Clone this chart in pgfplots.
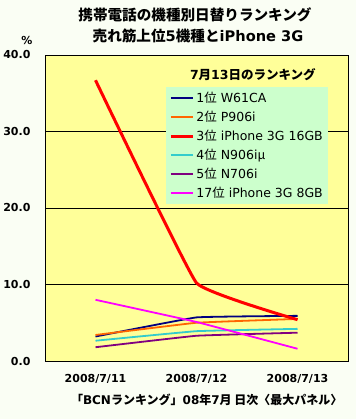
\documentclass[border=0pt]{standalone}
\usepackage{pgfplots}
\pgfplotsset{compat=1.18}
\usepackage{fontspec}
\setmainfont{DejaVu Sans}
\newfontfamily\jp{Noto Sans CJK JP}
\definecolor{bgc}{HTML}{FAFEF4}
\definecolor{plotbg}{HTML}{FFFF99}
\definecolor{legbg}{HTML}{CCFFCC}
\definecolor{c1}{HTML}{000080}
\definecolor{c2}{HTML}{FF6600}
\definecolor{c3}{HTML}{FF0000}
\definecolor{c4}{HTML}{33CCCC}
\definecolor{c5}{HTML}{800080}
\definecolor{c6}{HTML}{FF00FF}
\begin{document}
\begin{tikzpicture}[x=1pt,y=1pt]
\useasboundingbox (0,0) rectangle (356,419);
\fill[bgc] (0,0) rectangle (356,419);
\begin{axis}[
  at={(45pt,58pt)}, anchor=south west,
  scale only axis, width=303pt, height=306pt,
  xmin=-0.5, xmax=2.5, ymin=0, ymax=40,
  axis background/.style={fill=plotbg},
  axis line style={black, line width=0.8pt},
  xtick={0,1,2}, xticklabels={2008/7/11,2008/7/12,2008/7/13},
  extra x ticks={0.5,1.5}, extra x tick labels={},
  extra x tick style={major tick length=4pt, tick style={black, line width=0.8pt}, tick align=inside},
  x tick style={draw=none},
  ytick={0,10,20,30,40},
  yticklabel={\pgfmathprintnumber[fixed,fixed zerofill,precision=1]{\tick}},
  y tick style={draw=none},
  ymajorgrids, grid style={black, line width=0.8pt},
  /pgf/number format/assume math mode=true,
  tick label style={font=\bfseries\fontsize{11}{12}\selectfont},
  xticklabel style={yshift=-10pt},
  yticklabel style={xshift=-11pt},
  legend style={at={(rel axis cs:0.40,0.895)}, anchor=north west, fill=legbg, draw=none,
    font=\fontsize{12.5}{14}\selectfont, row sep=3pt, inner xsep=3pt, inner ysep=3pt, cells={anchor=west}},
  legend image code/.code={\draw[#1] (0pt,0pt) -- (22pt,0pt);},
  legend cell align=left,
  clip=false,
]
\addplot[c1, line width=1.8pt, smooth, tension=0.15] coordinates {(0,3.2) (1,5.7) (2,5.9)};
\addlegendentry{1{\jp 位} W61CA}
\addplot[c2, line width=1.8pt, smooth, tension=0.15] coordinates {(0,3.4) (1,5.0) (2,5.5)};
\addlegendentry{2{\jp 位} P906i}
\addplot[c4, line width=1.8pt, smooth, tension=0.15, forget plot] coordinates {(0,2.65) (1,3.9) (2,4.2)};
\addplot[c5, line width=1.8pt, smooth, tension=0.15, forget plot] coordinates {(0,1.8) (1,3.3) (2,3.7)};
\addplot[c6, line width=1.8pt, smooth, tension=0.15, forget plot] coordinates {(0,8.0) (1,5.1) (2,1.6)};
\addplot[c3, line width=3pt, smooth, tension=0.15] coordinates {(0,36.7) (1,10.2) (2,5.4)};
\addlegendentry{3{\jp 位} iPhone 3G 16GB}
\addlegendimage{c4, line width=1.8pt}
\addlegendentry{4{\jp 位} N906i{\jp μ}}
\addlegendimage{c5, line width=1.8pt}
\addlegendentry{5{\jp 位} N706i}
\addlegendimage{c6, line width=1.8pt}
\addlegendentry{17{\jp 位} iPhone 3G 8GB}
\node[font=\bfseries\fontsize{12.5}{14}\selectfont] at (rel axis cs:0.686,0.935) {7{\jp 月}13{\jp 日のランキング}};
\end{axis}
\node[font=\bfseries\fontsize{14.6}{16}\selectfont] at (195,404) {\jp 携帯電話の機種別日替りランキング};
\node[font=\bfseries\fontsize{14.6}{16}\selectfont] at (198,383) {{\jp 売れ筋上位}5{\jp 機種と}iPhone 3G};
\node[font=\bfseries\fontsize{11}{12}\selectfont] at (27,378) {\%};
\node[font=\bfseries\fontsize{12}{13}\selectfont, anchor=east] at (346,19) {{\jp 「}BCN{\jp ランキング」}08{\jp 年}7{\jp 月 日次〈最大パネル〉}};
\end{tikzpicture}
\end{document}
